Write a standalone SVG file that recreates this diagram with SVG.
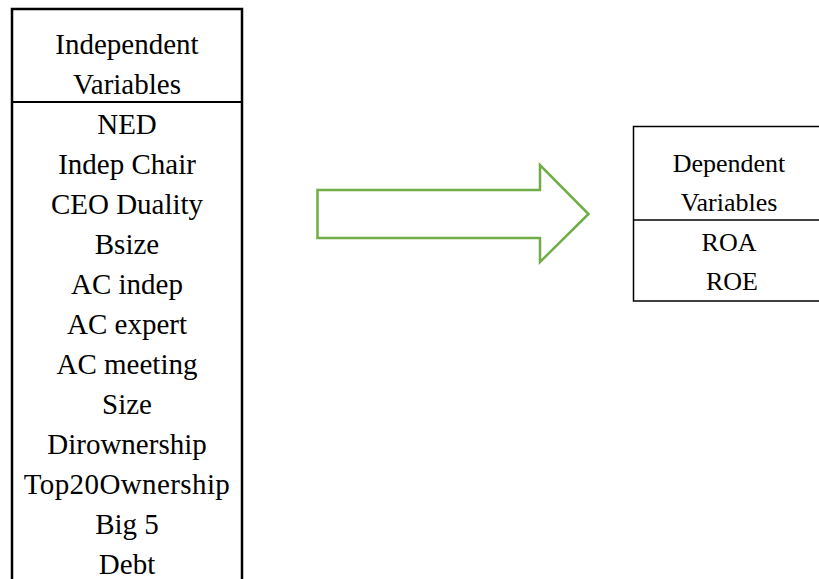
<svg xmlns="http://www.w3.org/2000/svg" width="819" height="579" viewBox="0 0 819 579">
  <style>
    .box { fill: #ffffff; stroke: #000000; }
    .txt { font-family: "Liberation Serif", "Times New Roman", serif; fill: #000000; text-anchor: middle; }
    .left { font-size: 29px; }
    .right { font-size: 26px; }
    .flow { fill: #ffffff; stroke: #70AD47; stroke-width: 2.5; }
  </style>
  <rect width="819" height="579" fill="#ffffff"/>

  <!-- Independent variables table -->
  <g id="independent">
    <rect class="box" x="12" y="9" width="230" height="590" stroke-width="2.5"/>
    <line class="box" x1="12" y1="102" x2="242" y2="102" stroke-width="2"/>
    <text class="txt left" x="127" y="54">Independent</text>
    <text class="txt left" x="127" y="94">Variables</text>
    <text class="txt left" x="127" y="134">NED</text>
    <text class="txt left" x="127" y="174">Indep Chair</text>
    <text class="txt left" x="127" y="214">CEO Duality</text>
    <text class="txt left" x="127" y="254">Bsize</text>
    <text class="txt left" x="127" y="294">AC indep</text>
    <text class="txt left" x="127" y="334">AC expert</text>
    <text class="txt left" x="127" y="374">AC meeting</text>
    <text class="txt left" x="127" y="414">Size</text>
    <text class="txt left" x="127" y="454">Dirownership</text>
    <text class="txt left" x="127" y="494" letter-spacing="0.4">Top20Ownership</text>
    <text class="txt left" x="127" y="534">Big 5</text>
    <text class="txt left" x="127" y="574">Debt</text>
  </g>

  <!-- Block arrow -->
  <g id="connectors">
    <polygon class="flow" points="317.5,190 540,190 540,165 588.5,214 540,262 540,238 317.5,238"/>
  </g>

  <!-- Dependent variables table -->
  <g id="dependent">
    <rect class="box" x="633.5" y="126.5" width="200" height="174.5" stroke-width="1.5"/>
    <line class="box" x1="633.5" y1="220" x2="819" y2="220" stroke-width="1.5"/>
    <text class="txt right" x="729" y="172">Dependent</text>
    <text class="txt right" x="729" y="211">Variables</text>
    <text class="txt right" x="729" y="251">ROA</text>
    <text class="txt right" x="732" y="290">ROE</text>
  </g>
</svg>
